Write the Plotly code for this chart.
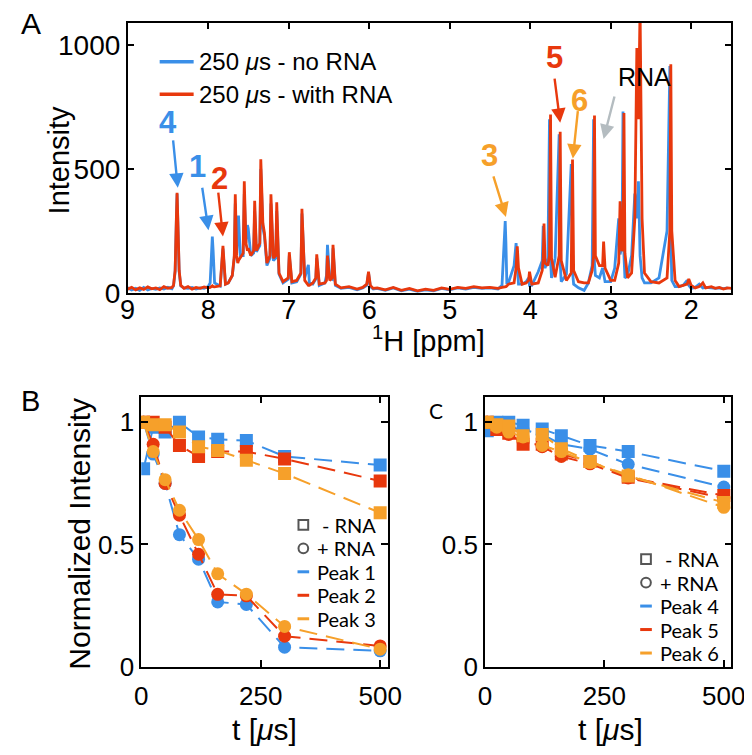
import plotly.graph_objects as go

blue = '#3A8FE8'
red = '#E8380D'
orange = '#F6A02A'
grey_arrow = '#B4BCC0'

# ---- panel A : 1H spectrum (ppm, intensity) ----
ppm = [9.0, 8.95, 8.9, 8.85, 8.8, 8.75, 8.7, 8.65, 8.6, 8.55, 8.5, 8.45,
       8.43, 8.41, 8.395, 8.386, 8.377, 8.36, 8.34,
       8.3, 8.25, 8.2, 8.15, 8.1, 8.05, 8.0,
       7.975, 7.958, 7.948, 7.938, 7.92, 7.85, 7.828, 7.816, 7.804, 7.785,
       7.75, 7.70, 7.675, 7.663, 7.645, 7.632, 7.623, 7.60, 7.565, 7.551, 7.53,
       7.512, 7.502, 7.47, 7.435, 7.422, 7.40, 7.358, 7.346, 7.32, 7.301, 7.27,
       7.232, 7.220, 7.19, 7.16, 7.148, 7.12, 7.07, 7.005, 6.992, 6.96, 6.90,
       6.848, 6.835, 6.80, 6.755, 6.743, 6.70, 6.663, 6.651, 6.62, 6.55, 6.53,
       6.518, 6.49, 6.46, 6.449, 6.42, 6.35, 6.25, 6.15, 6.08, 6.03, 6.008, 5.985,
       5.95, 5.9, 5.8, 5.7, 5.6, 5.5, 5.4, 5.3, 5.2, 5.1, 5.0, 4.9, 4.8, 4.7,
       4.6, 4.5, 4.4, 4.35, 4.32, 4.31, 4.301, 4.29, 4.27, 4.2, 4.175, 4.16,
       4.145, 4.1, 4.05, 4.02, 4.008, 3.98, 3.9, 3.85, 3.838, 3.828, 3.815, 3.78,
       3.76, 3.747, 3.735, 3.69, 3.64, 3.627, 3.614, 3.55, 3.49, 3.474, 3.46,
       3.40, 3.33, 3.277, 3.23, 3.212, 3.201, 3.19, 3.14, 3.10, 3.088, 3.07,
       3.00, 2.95, 2.90, 2.883, 2.86, 2.847, 2.835, 2.823, 2.79, 2.74, 2.70,
       2.675, 2.655, 2.635, 2.61, 2.58, 2.5, 2.4, 2.3, 2.265, 2.253, 2.241, 2.2,
       2.15, 2.1, 2.05, 2.03, 2.0, 1.95, 1.9, 1.855, 1.82, 1.75, 1.7, 1.65,
       1.6, 1.55, 1.5]
int_red = [15, 22, 12, 20, 14, 24, 16, 20, 13, 25, 18, 22,
           30, 90, 300, 404, 300, 90, 30,
           18, 25, 15, 22, 18, 24, 20,
           22, 24, 28, 25, 24, 28, 130, 190, 130, 35,
           40, 70, 150, 398, 150, 120, 130, 140, 160, 450, 200,
           170, 180, 150, 170, 371, 170, 200, 539, 280, 243, 120,
           150, 398, 140, 150, 365, 80, 45, 60, 164, 45, 50,
           80, 339, 50, 30, 30, 40, 60, 155, 35, 40, 50,
           150, 50, 60, 194, 35, 20, 25, 15, 22, 35, 85, 30,
           18, 20, 12, 22, 10, 18, 8, 15, 10, 20, 14, 22, 18, 25,
           20, 22, 18, 22, 22, 25, 25, 28, 35, 40, 100, 188,
           100, 35, 40, 50, 85, 35, 40, 90, 140, 280, 120, 110,
           150, 719, 140, 63, 150, 650, 130, 50, 80, 538, 90,
           45, 40, 40, 90, 150, 715, 150, 110, 110, 207, 100,
           50, 50, 120, 369, 168, 200, 726, 160, 60, 80, 300,
           988, 700, 1150, 300, 80, 45, 40, 60, 250, 922, 250, 50,
           25, 30, 35, 56, 30, 20, 25, 40, 20, 25, 18, 22,
           15, 20, 18]
int_blue = [20, 12, 18, 10, 22, 12, 18, 14, 20, 15, 22, 16,
            28, 85, 290, 400, 290, 85, 28,
            20, 18, 22, 15, 20, 18, 25,
            40, 170, 227, 170, 40, 28, 120, 178, 120, 35,
            40, 70, 140, 360, 160, 290, 312, 150, 150, 400, 200,
            273, 260, 150, 160, 330, 165, 190, 500, 260, 230, 110,
            140, 360, 130, 140, 330, 75, 40, 55, 150, 40, 45,
            75, 320, 60, 113, 40, 35, 55, 140, 30, 40, 70,
            194, 60, 55, 180, 30, 18, 22, 12, 20, 30, 80, 25,
            15, 18, 10, 20, 8, 15, 6, 12, 8, 18, 12, 20, 15, 22,
            18, 20, 15, 30, 200, 290, 200, 40, 40, 110, 201,
            110, 35, 35, 45, 60, 30, 30, 85, 130, 270, 110, 100,
            140, 700, 130, 60, 140, 640, 120, 45, 75, 520, 85,
            35, 20, 10, 40, 110, 700, 120, 70, 60, 100, 70,
            45, 45, 100, 300, 155, 190, 732, 150, 60, 70, 150,
            400, 300, 450, 150, 60, 40, 40, 60, 250, 915, 250, 50,
            25, 25, 30, 50, 30, 18, 22, 35, 20, 22, 20, 18,
            20, 17, 20]

# ---- panels B and C : normalized intensity vs delay ----
t_us = [5, 25, 50, 80, 120, 160, 220, 300, 500]

peak1_noRNA = [0.81, 0.98, 0.96, 1.0, 0.94, 0.93, 0.925, 0.86, 0.825]
peak1_RNA = [1.0, 0.87, 0.75, 0.54, 0.44, 0.265, 0.255, 0.08, 0.065]
peak2_noRNA = [1.0, 1.0, 0.98, 0.905, 0.86, 0.88, 0.88, 0.85, 0.76]
peak2_RNA = [1.0, 0.91, 0.75, 0.62, 0.46, 0.296, 0.29, 0.125, 0.085]
peak3_noRNA = [1.0, 0.99, 0.99, 0.96, 0.90, 0.885, 0.845, 0.79, 0.63]
peak3_RNA = [1.0, 0.88, 0.765, 0.64, 0.52, 0.38, 0.297, 0.165, 0.072]

peak4_noRNA = [0.965, 1.0, 1.0, 0.988, 0.972, 0.945, 0.905, 0.88, 0.80]
peak4_RNA = [1.0, 0.99, 0.98, 0.97, 0.95, 0.91, 0.89, 0.828, 0.735]
peak5_noRNA = [1.0, 0.97, 0.955, 0.91, 0.91, 0.87, 0.84, 0.775, 0.70]
peak5_RNA = [1.0, 0.97, 0.95, 0.92, 0.90, 0.86, 0.83, 0.772, 0.69]
peak6_noRNA = [1.0, 0.99, 0.985, 0.945, 0.95, 0.892, 0.84, 0.78, 0.672]
peak6_RNA = [1.0, 0.98, 0.96, 0.94, 0.905, 0.88, 0.835, 0.785, 0.652]

W, H = 752, 755
def px(x):
    return x / W
def py(y):
    return 1 - y / H

fig = go.Figure()

fig.add_trace(go.Scatter(x=ppm, y=int_blue, mode='lines', line=dict(color=blue, width=2.8),
                         xaxis='x', yaxis='y', showlegend=False))
fig.add_trace(go.Scatter(x=ppm, y=int_red, mode='lines', line=dict(color=red, width=2.8),
                         xaxis='x', yaxis='y', showlegend=False))

dash = '18px,9px'
panel_b = [(peak1_noRNA, peak1_RNA, blue), (peak2_noRNA, peak2_RNA, red), (peak3_noRNA, peak3_RNA, orange)]
panel_c = [(peak4_noRNA, peak4_RNA, blue), (peak5_noRNA, peak5_RNA, red), (peak6_noRNA, peak6_RNA, orange)]
for axx, axy, series in [('x2', 'y2', panel_b), ('x3', 'y3', panel_c)]:
    for no_rna, with_rna, col in series:
        fig.add_trace(go.Scatter(x=t_us, y=with_rna, mode='lines+markers', xaxis=axx, yaxis=axy,
                                 line=dict(color=col, width=2, dash=dash),
                                 marker=dict(symbol='circle', size=13, color=col), showlegend=False))
        fig.add_trace(go.Scatter(x=t_us, y=no_rna, mode='lines+markers', xaxis=axx, yaxis=axy,
                                 line=dict(color=col, width=2, dash=dash),
                                 marker=dict(symbol='square', size=13, color=col), showlegend=False))

def axis_style(size, standoff=0):
    return dict(showline=True, linecolor='black', linewidth=1.5, mirror='allticks',
                ticks='inside', ticklen=7, tickwidth=1.5, tickcolor='black',
                showgrid=False, zeroline=False, ticklabelstandoff=standoff,
                tickfont=dict(family='Liberation Sans, Arial', size=size, color='black'))

fig.update_layout(
    width=W, height=H, margin=dict(l=0, r=0, t=0, b=0),
    paper_bgcolor='white', plot_bgcolor='white',
    xaxis=dict(domain=[px(115), px(737)], range=[9, 1.5], tickvals=[9, 8, 7, 6, 5, 4, 3, 2],
               anchor='y', **axis_style(27, -8)),
    yaxis=dict(domain=[py(291), py(15)], range=[0, 1090], tickvals=[0, 500, 1000],
               anchor='x', **axis_style(28)),
    xaxis2=dict(domain=[px(129), px(383)], range=[0, 516], tickvals=[0, 250, 500],
                anchor='y2', **axis_style(26, 5)),
    yaxis2=dict(domain=[py(673), py(397)], range=[0, 1.105], tickvals=[0, 0.5, 1],
                ticktext=['0', '0.5', '1'], anchor='x2', **axis_style(26)),
    xaxis3=dict(domain=[px(483), px(737)], range=[0, 516], tickvals=[0, 250, 500],
                anchor='y3', **axis_style(26, 5)),
    yaxis3=dict(domain=[py(673), py(397)], range=[0, 1.105], tickvals=[0, 0.5, 1],
                ticktext=['0', '0.5', '1'], anchor='x3', **axis_style(26)),
)

ann = []
shapes = []
def text(x, y, s, size=24, color='black', family='Liberation Sans, Arial', xanchor='center',
         angle=0, bold=False, xref='paper', yref='paper'):
    if bold:
        s = '<b>' + s + '</b>'
    ann.append(dict(x=x, y=y, xref=xref, yref=yref, text=s, showarrow=False, xanchor=xanchor,
                    yanchor='middle', textangle=angle, font=dict(size=size, color=color, family=family)))

def arrow(x0, y0, x1, y1, color):
    ann.append(dict(x=x1, y=y1, ax=x0, ay=y0, xref='x', yref='y', axref='x', ayref='y', text='',
                    showarrow=True, arrowhead=2, arrowsize=1.2, arrowwidth=2.4, arrowcolor=color))

# panel letters and axis titles
text(px(15), py(16), 'A', size=30)
text(px(15), py(402), 'B', size=29)
text(px(433), py(411), 'C', size=21, family='Lato')
text(px(44), py(155), 'Intensity', size=29, angle=-90)
text(px(425), py(338), '<sup>1</sup>H [ppm]', size=29)
text(px(66), py(537), 'Normalized Intensity', size=30, angle=-90)
text(px(256), py(737), 't [<i>μ</i>s]', size=30)
text(px(612), py(737), 't [<i>μ</i>s]', size=30)

# panel A legend
for yy, col, lab in [(55, blue, '250 <i>μ</i>s - no RNA'), (88, red, '250 <i>μ</i>s - with RNA')]:
    shapes.append(dict(type='line', xref='paper', yref='paper', x0=px(148), x1=px(183), y0=py(yy), y1=py(yy),
                       line=dict(color=col, width=3.5)))
    text(px(186), py(yy), lab, size=24, xanchor='left')

# peak labels + arrows in panel A
text(8.498, 686, '4', size=31, color=blue, bold=True, xref='x', yref='y')
arrow(8.437, 621, 8.377, 424, blue)
text(8.136, 508, '1', size=31, color=blue, bold=True, xref='x', yref='y')
arrow(8.076, 430, 7.996, 253, blue)
text(7.864, 463, '2', size=31, color=red, bold=True, xref='x', yref='y')
arrow(7.876, 410, 7.816, 227, red)
text(4.502, 555, '3', size=31, color=orange, bold=True, xref='x', yref='y')
arrow(4.462, 476, 4.301, 306, orange)
text(3.699, 949, '5', size=31, color=red, bold=True, xref='x', yref='y')
arrow(3.699, 870, 3.627, 686, red)
text(3.389, 778, '6', size=31, color=orange, bold=True, xref='x', yref='y')
arrow(3.406, 739, 3.470, 542, orange)
text(2.574, 870, 'RNA', size=25, xref='x', yref='y')
arrow(2.948, 798, 3.088, 621, grey_arrow)

# legends of panels B and C
step = 24
for x_sym, x_txt, y0, labels in [(296, 373, 528, ['Peak 1', 'Peak 2', 'Peak 3']),
                                 (649, 726, 563, ['Peak 4', 'Peak 5', 'Peak 6'])]:
    rows = [('- RNA', None), ('+ RNA', None)] + list(zip(labels, [blue, red, orange]))
    for k, (lab, col) in enumerate(rows):
        yy = y0 + step * k
        if k == 0:
            shapes.append(dict(type='rect', xref='paper', yref='paper', x0=px(x_sym - 5), x1=px(x_sym + 5),
                               y0=py(yy - 5), y1=py(yy + 5), line=dict(color='#555', width=2)))
        elif k == 1:
            shapes.append(dict(type='circle', xref='paper', yref='paper', x0=px(x_sym - 5), x1=px(x_sym + 5),
                               y0=py(yy - 5), y1=py(yy + 5), line=dict(color='#555', width=2)))
        else:
            shapes.append(dict(type='line', xref='paper', yref='paper', x0=px(x_sym - 6), x1=px(x_sym + 6),
                               y0=py(yy), y1=py(yy), line=dict(color=col, width=3)))
        text(px(x_txt), py(yy), lab, size=20, family='Lato', xanchor='right')

fig.update_layout(annotations=ann, shapes=shapes)

fig.write_html("out.html")
